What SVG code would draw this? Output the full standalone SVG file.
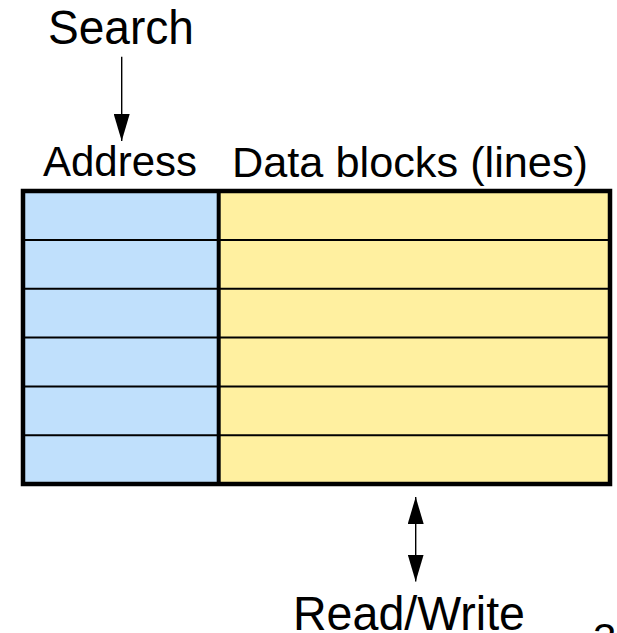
<svg xmlns="http://www.w3.org/2000/svg" width="617" height="633" viewBox="0 0 617 633">
  <style>
    .lbl { font-family: "Liberation Sans", Arial, sans-serif; fill: #000; }
    .big { font-size: 48px; }
    .mid { font-size: 42px; }
    .row { stroke: #000; stroke-width: 2; }
    .wire { stroke: #000; stroke-width: 1.4; fill: none; }
  </style>
  <defs>
    <marker id="tri" viewBox="0 0 27 16" refX="27" refY="8" markerWidth="27" markerHeight="16" markerUnits="userSpaceOnUse" orient="auto-start-reverse">
      <path d="M0,0 L27,8 L0,16 Z" fill="#000"/>
    </marker>
  </defs>

  <g id="search">
    <text class="lbl big" x="48" y="44" textLength="146" lengthAdjust="spacingAndGlyphs">Search</text>
  </g>

  <g id="cache">
    <rect x="23" y="191" width="196" height="293" fill="#c0e0fc"/>
    <rect x="219" y="191" width="391" height="293" fill="#fff0a0"/>
    <line class="row" x1="23" y1="240" x2="610" y2="240"/>
    <line class="row" x1="23" y1="288.8" x2="610" y2="288.8"/>
    <line class="row" x1="23" y1="337.6" x2="610" y2="337.6"/>
    <line class="row" x1="23" y1="386.4" x2="610" y2="386.4"/>
    <line class="row" x1="23" y1="435.2" x2="610" y2="435.2"/>
    <line x1="218.7" y1="191" x2="218.7" y2="484" stroke="#000" stroke-width="4"/>
    <rect x="23" y="191" width="587" height="293" fill="none" stroke="#000" stroke-width="4.5"/>
    <text class="lbl mid" x="43" y="176" textLength="154" lengthAdjust="spacingAndGlyphs">Address</text>
    <text class="lbl mid" x="232" y="177" textLength="356" lengthAdjust="spacingAndGlyphs">Data blocks (lines)</text>
  </g>

  <g id="connectors">
    <line class="wire" x1="121.7" y1="56.7" x2="121.7" y2="141" marker-end="url(#tri)"/>
    <line class="wire" x1="415.7" y1="497" x2="415.7" y2="581.5" marker-start="url(#tri)" marker-end="url(#tri)"/>
  </g>

  <g id="readwrite">
    <text class="lbl big" x="293" y="630" textLength="232" lengthAdjust="spacingAndGlyphs">Read/Write</text>
  </g>
  <!-- page number, partly below the bottom edge -->
  <text class="lbl mid" x="593" y="653">3</text>
</svg>
